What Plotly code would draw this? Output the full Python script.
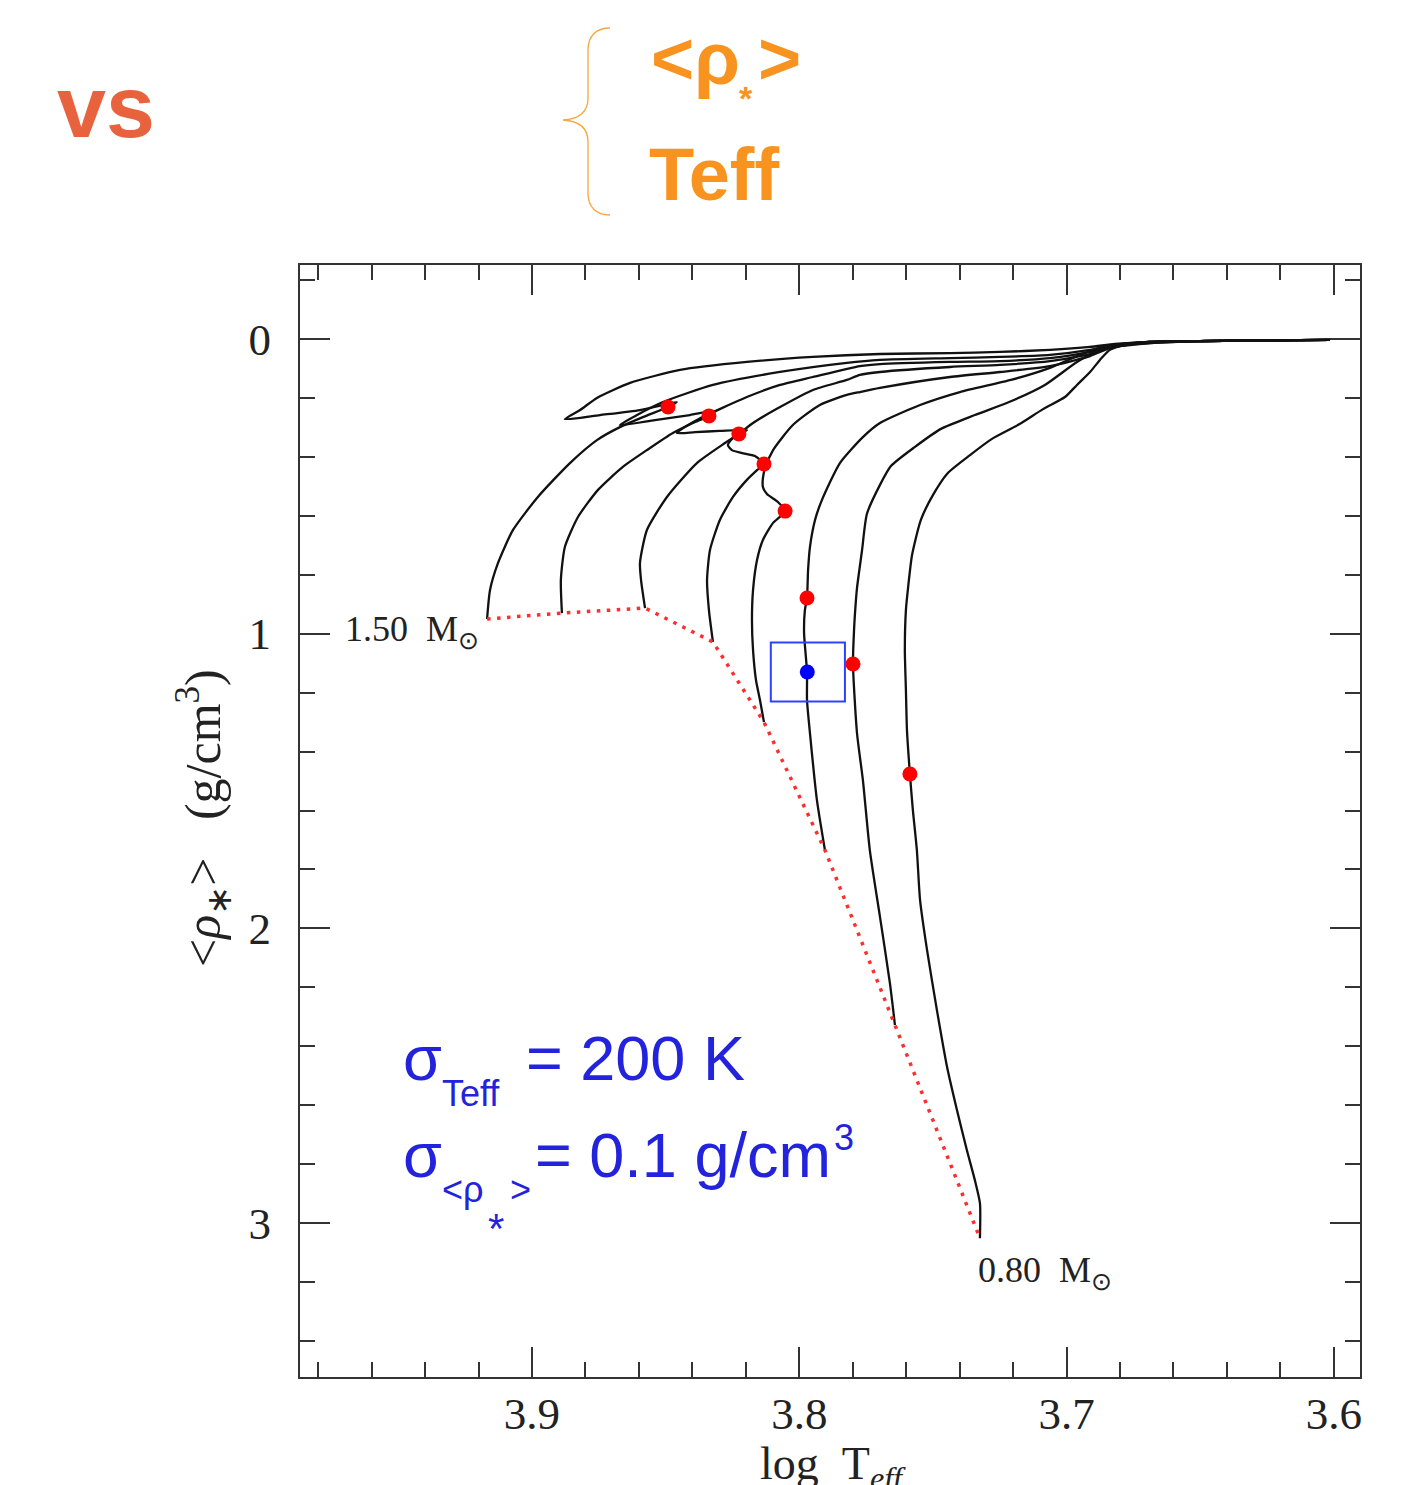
import math
import plotly.graph_objects as go

FIG_W, FIG_H = 1415, 1485
PLOT_L, PLOT_R, PLOT_T, PLOT_B = 300, 1360, 265, 1377

# ---- evolutionary tracks: log Teff and mean stellar density <rho*> (g/cm^3) ----
track_masses = ["1.50", "1.40", "1.30", "1.20", "1.10", "1.00", "0.90", "0.80"]

logteff_150 = [3.9168, 3.9157, 3.9127, 3.9071, 3.8978, 3.8858, 3.8757, 3.8671, 3.8585, 3.8491,
               3.8458, 3.8596, 3.8746, 3.8877, 3.8820, 3.8757, 3.8633, 3.8446, 3.8196, 3.7949,
               3.7698, 3.7436, 3.7249, 3.7062, 3.6912, 3.6819, 3.6688, 3.6501, 3.6015]
rho_150 = [0.950, 0.852, 0.760, 0.648, 0.536, 0.421, 0.343, 0.299, 0.265, 0.231,
           0.214, 0.241, 0.258, 0.272, 0.241, 0.200, 0.149, 0.105, 0.078, 0.061,
           0.051, 0.048, 0.044, 0.037, 0.027, 0.017, 0.010, 0.007, 0.003]

logteff_140 = [3.8888, 3.8892, 3.8877, 3.8828, 3.8753, 3.8660, 3.8570, 3.8473, 3.8398, 3.8338,
               3.8315, 3.8409, 3.8540, 3.8671, 3.8607, 3.8510, 3.8323, 3.8072, 3.7822, 3.7698,
               3.7436, 3.7249, 3.7062, 3.6912, 3.6819, 3.6688, 3.6501, 3.6015]
rho_140 = [0.930, 0.818, 0.706, 0.604, 0.512, 0.434, 0.377, 0.319, 0.285, 0.261,
           0.244, 0.258, 0.275, 0.292, 0.258, 0.214, 0.156, 0.112, 0.081, 0.071,
           0.065, 0.061, 0.054, 0.037, 0.020, 0.010, 0.007, 0.003]

logteff_130 = [3.8577, 3.8592, 3.8596, 3.8570, 3.8495, 3.8383, 3.8278, 3.8226, 3.8196, 3.8297,
               3.8390, 3.8458, 3.8383, 3.8196, 3.8072, 3.7949, 3.7773, 3.7698, 3.7436, 3.7249,
               3.7062, 3.6912, 3.6830, 3.6688, 3.6501, 3.6015]
rho_130 = [0.913, 0.818, 0.760, 0.648, 0.536, 0.421, 0.353, 0.322, 0.309, 0.312,
           0.316, 0.319, 0.275, 0.197, 0.156, 0.129, 0.092, 0.085, 0.078, 0.075,
           0.065, 0.044, 0.024, 0.010, 0.007, 0.003]

logteff_120 = [3.8323, 3.8338, 3.8345, 3.8334, 3.8297, 3.8248, 3.8196, 3.8158, 3.8132, 3.8166,
               3.8214, 3.8252, 3.8267, 3.8248, 3.8226, 3.8173, 3.8072, 3.7949, 3.7822, 3.7773,
               3.7698, 3.7436, 3.7249, 3.7062, 3.6912, 3.6830, 3.6688, 3.6501, 3.6015]
rho_120 = [1.028, 0.920, 0.818, 0.716, 0.614, 0.536, 0.478, 0.445, 0.424, 0.397,
           0.387, 0.377, 0.360, 0.336, 0.322, 0.285, 0.231, 0.173, 0.139, 0.122,
           0.112, 0.095, 0.088, 0.075, 0.051, 0.027, 0.014, 0.007, 0.003]

logteff_110 = [3.8132, 3.8147, 3.8162, 3.8173, 3.8177, 3.8173, 3.8158, 3.8136, 3.8098, 3.8053,
               3.8080, 3.8121, 3.8136, 3.8136, 3.8128, 3.8098, 3.8024, 3.7923, 3.7822, 3.7773,
               3.7698, 3.7436, 3.7249, 3.7062, 3.6912, 3.6838, 3.6688, 3.6501, 3.6015]
rho_110 = [1.300, 1.225, 1.157, 1.055, 0.954, 0.852, 0.750, 0.682, 0.624, 0.584,
           0.553, 0.526, 0.502, 0.472, 0.438, 0.377, 0.292, 0.224, 0.190, 0.180,
           0.166, 0.129, 0.112, 0.092, 0.058, 0.031, 0.014, 0.007, 0.003]

logteff_100 = [3.7904, 3.7934, 3.7960, 3.7971, 3.7971, 3.7982, 3.7979, 3.7971, 3.7967, 3.7960,
               3.7941, 3.7915, 3.7848, 3.7762, 3.7698, 3.7548, 3.7399, 3.7208, 3.7062, 3.6950,
               3.6864, 3.6688, 3.6501, 3.6015]
rho_100 = [1.734, 1.564, 1.337, 1.225, 1.130, 0.998, 0.920, 0.879, 0.784, 0.706,
           0.614, 0.546, 0.421, 0.333, 0.285, 0.224, 0.180, 0.139, 0.098, 0.054,
           0.027, 0.010, 0.007, 0.003]

logteff_090 = [3.7642, 3.7661, 3.7698, 3.7736, 3.7762, 3.7784, 3.7799, 3.7795, 3.7788, 3.7784,
               3.7765, 3.7747, 3.7698, 3.7657, 3.7567, 3.7470, 3.7343, 3.7215, 3.7081, 3.6961,
               3.6875, 3.6688, 3.6501, 3.6015]
rho_090 = [2.328, 2.185, 1.961, 1.734, 1.496, 1.337, 1.103, 0.987, 0.886, 0.845,
           0.716, 0.594, 0.495, 0.431, 0.366, 0.305, 0.258, 0.214, 0.156, 0.078,
           0.037, 0.010, 0.007, 0.003]

logteff_080 = [3.7324, 3.7324, 3.7343, 3.7373, 3.7410, 3.7447, 3.7485, 3.7522, 3.7548, 3.7560,
               3.7575, 3.7586, 3.7597, 3.7601, 3.7605, 3.7601, 3.7593, 3.7578, 3.7545, 3.7500,
               3.7444, 3.7361, 3.7279, 3.7174, 3.7088, 3.7006, 3.6961, 3.6912, 3.6875, 3.6838,
               3.6781, 3.6688, 3.6501, 3.6015]
rho_080 = [3.051, 2.932, 2.854, 2.752, 2.616, 2.470, 2.277, 2.073, 1.904, 1.734,
           1.598, 1.476, 1.327, 1.191, 1.055, 0.920, 0.845, 0.733, 0.614, 0.530,
           0.455, 0.394, 0.339, 0.288, 0.238, 0.197, 0.156, 0.112, 0.071, 0.037,
           0.020, 0.010, 0.007, 0.003]

tracks = [
    (logteff_150, rho_150), (logteff_140, rho_140), (logteff_130, rho_130),
    (logteff_120, rho_120), (logteff_110, rho_110), (logteff_100, rho_100),
    (logteff_090, rho_090), (logteff_080, rho_080),
]

# points of equal age marked on the tracks
iso_logteff = [3.8491, 3.8338, 3.8226, 3.8132, 3.8053, 3.7971, 3.7799, 3.7586]
iso_rho = [0.231, 0.261, 0.322, 0.424, 0.584, 0.879, 1.103, 1.476]

# observed star with its 1-sigma errors
obs_logteff = 3.797
obs_rho = 1.13
sigma_teff = 200.0   # K
sigma_rho = 0.1      # g/cm^3

x_ticks = [3.9, 3.8, 3.7, 3.6]
y_ticks = [0, 1, 2, 3]

SERIF = "Liberation Serif, Times New Roman, serif"
SANS = "Liberation Sans, Arial, sans-serif"
BLUE_TXT = "#2323DD"
ORANGE = "#F7931E"
VS_RED = "#E9623E"
INK = "#222222"

fig = go.Figure()

for lt, rh in tracks:
    fig.add_trace(go.Scatter(x=lt, y=rh, mode="lines",
                             line=dict(color="#111111", width=2.3, shape="spline", smoothing=0.6),
                             hoverinfo="skip"))

# zero-age main sequence joining the first point of every track
zams_logteff = [lt[0] for lt, _ in tracks]
zams_rho = [rh[0] for _, rh in tracks]
fig.add_trace(go.Scatter(x=zams_logteff, y=zams_rho, mode="lines",
                         line=dict(color="#FF2E2E", width=3.5, dash="3.5px,6.5px")))

fig.add_trace(go.Scatter(x=iso_logteff, y=iso_rho, mode="markers",
                         marker=dict(color="#FF0000", size=15)))

fig.add_trace(go.Scatter(x=[obs_logteff], y=[obs_rho], mode="markers",
                         marker=dict(color="#0000FF", size=15)))

teff_obs = 10 ** obs_logteff
fig.add_shape(type="rect", xref="x", yref="y",
              x0=math.log10(teff_obs + sigma_teff), x1=math.log10(teff_obs - sigma_teff),
              y0=obs_rho - sigma_rho, y1=obs_rho + sigma_rho,
              line=dict(color="#3040FF", width=2))


def fx(px):
    return (px - PLOT_L) / (PLOT_R - PLOT_L)


def fy(py):
    return (PLOT_B - py) / (PLOT_B - PLOT_T)


def text_at(text, left, baseline, size, color, family, xanchor="left"):
    return dict(text=text, xref="paper", yref="paper",
                x=fx(left), y=fy(baseline - 0.35 * size),
                xanchor=xanchor, yanchor="middle", showarrow=False,
                font=dict(family=family, size=size, color=color))


annotations = [
    # header
    text_at("<b>vs</b>", 55, 137, 88, VS_RED, SANS),
    text_at("<b>&lt;ρ</b>", 649, 84, 74, ORANGE, SANS),
    text_at("<b>*</b>", 737, 110, 34, ORANGE, SANS),
    text_at("<b>&gt;</b>", 756, 84, 74, ORANGE, SANS),
    text_at("<b>Teff</b>", 647, 200, 74, ORANGE, SANS),
    # uncertainty text
    text_at("σ", 401, 1080, 63, BLUE_TXT, SANS),
    text_at("Teff", 440, 1106, 36, BLUE_TXT, SANS),
    text_at("= 200 K", 524, 1080, 63, BLUE_TXT, SANS),
    text_at("σ", 401, 1177, 63, BLUE_TXT, SANS),
    text_at("&lt;ρ", 440, 1202, 36, BLUE_TXT, SANS),
    text_at("*", 486, 1243, 42, BLUE_TXT, SANS),
    text_at("&gt;", 508, 1202, 36, BLUE_TXT, SANS),
    text_at("= 0.1 g/cm", 533, 1177, 63, BLUE_TXT, SANS),
    text_at("3", 832, 1150, 36, BLUE_TXT, SANS),
    # axis titles
    text_at("log&nbsp;&nbsp;T<sub><i>eff</i></sub>", 758, 1483, 46, INK, SERIF),
    dict(text="&lt;<i>ρ</i><sub>∗</sub>&gt;&nbsp;&nbsp;&nbsp;(g/cm<sup>3</sup>)",
         xref="paper", yref="paper", x=fx(203), y=fy(818),
         xanchor="center", yanchor="middle", textangle=-90, showarrow=False,
         font=dict(family=SERIF, size=50, color=INK)),
    # mass labels at the ends of the extreme tracks
    dict(text=track_masses[0] + "&nbsp;&nbsp;M<sub>⊙</sub>", xref="x", yref="y",
         x=3.9707, y=0.994, xanchor="left", yanchor="middle", showarrow=False,
         font=dict(family=SERIF, size=36, color=INK)),
    dict(text=track_masses[-1] + "&nbsp;&nbsp;M<sub>⊙</sub>", xref="x", yref="y",
         x=3.7340, y=3.169, xanchor="left", yanchor="middle", showarrow=False,
         font=dict(family=SERIF, size=36, color=INK)),
]

# curly brace grouping the two quantities
brace_pts = [
    ("M", (610, 28)),
    ("C", (596, 28), (588, 36), (588, 50)),
    ("L", (588, 98)),
    ("C", (588, 111), (580, 119), (563, 120)),
    ("C", (580, 121), (588, 129), (588, 142)),
    ("L", (588, 193)),
    ("C", (588, 207), (596, 215), (610, 215)),
]
path = ""
for cmd, *pts in brace_pts:
    path += cmd + " " + " ".join(f"{fx(a):.5f},{fy(b):.5f}" for a, b in pts) + " "
fig.add_shape(type="path", xref="paper", yref="paper", path=path.strip(),
              line=dict(color="#F8A53F", width=1.3))

axis_common = dict(
    showgrid=False, zeroline=False, showline=True, linecolor="#333333", linewidth=2,
    mirror="ticks", ticks="inside", tickwidth=2, tickcolor="#333333", ticklen=30,
    tickfont=dict(family=SERIF, size=45, color=INK),
)

fig.update_xaxes(range=[3.9868, 3.5902], tickmode="array", tickvals=x_ticks,
                 ticktext=[f"{v:.1f}" for v in x_ticks], ticklabelstandoff=-4,
                 minor=dict(ticks="inside", ticklen=15, tickwidth=2, tickcolor="#333333",
                            dtick=0.02, tick0=3.6, showgrid=False),
                 **axis_common)
fig.update_yaxes(range=[3.522, -0.251], tickmode="array", tickvals=y_ticks,
                 ticktext=[str(v) for v in y_ticks], ticklabelstandoff=18,
                 minor=dict(ticks="inside", ticklen=15, tickwidth=2, tickcolor="#333333",
                            dtick=0.2, tick0=0, showgrid=False),
                 **axis_common)

fig.update_layout(
    width=FIG_W, height=FIG_H,
    margin=dict(l=PLOT_L, r=FIG_W - PLOT_R, t=PLOT_T, b=FIG_H - PLOT_B),
    paper_bgcolor="white", plot_bgcolor="white",
    showlegend=False, annotations=annotations,
)

fig.write_html("out.html")
